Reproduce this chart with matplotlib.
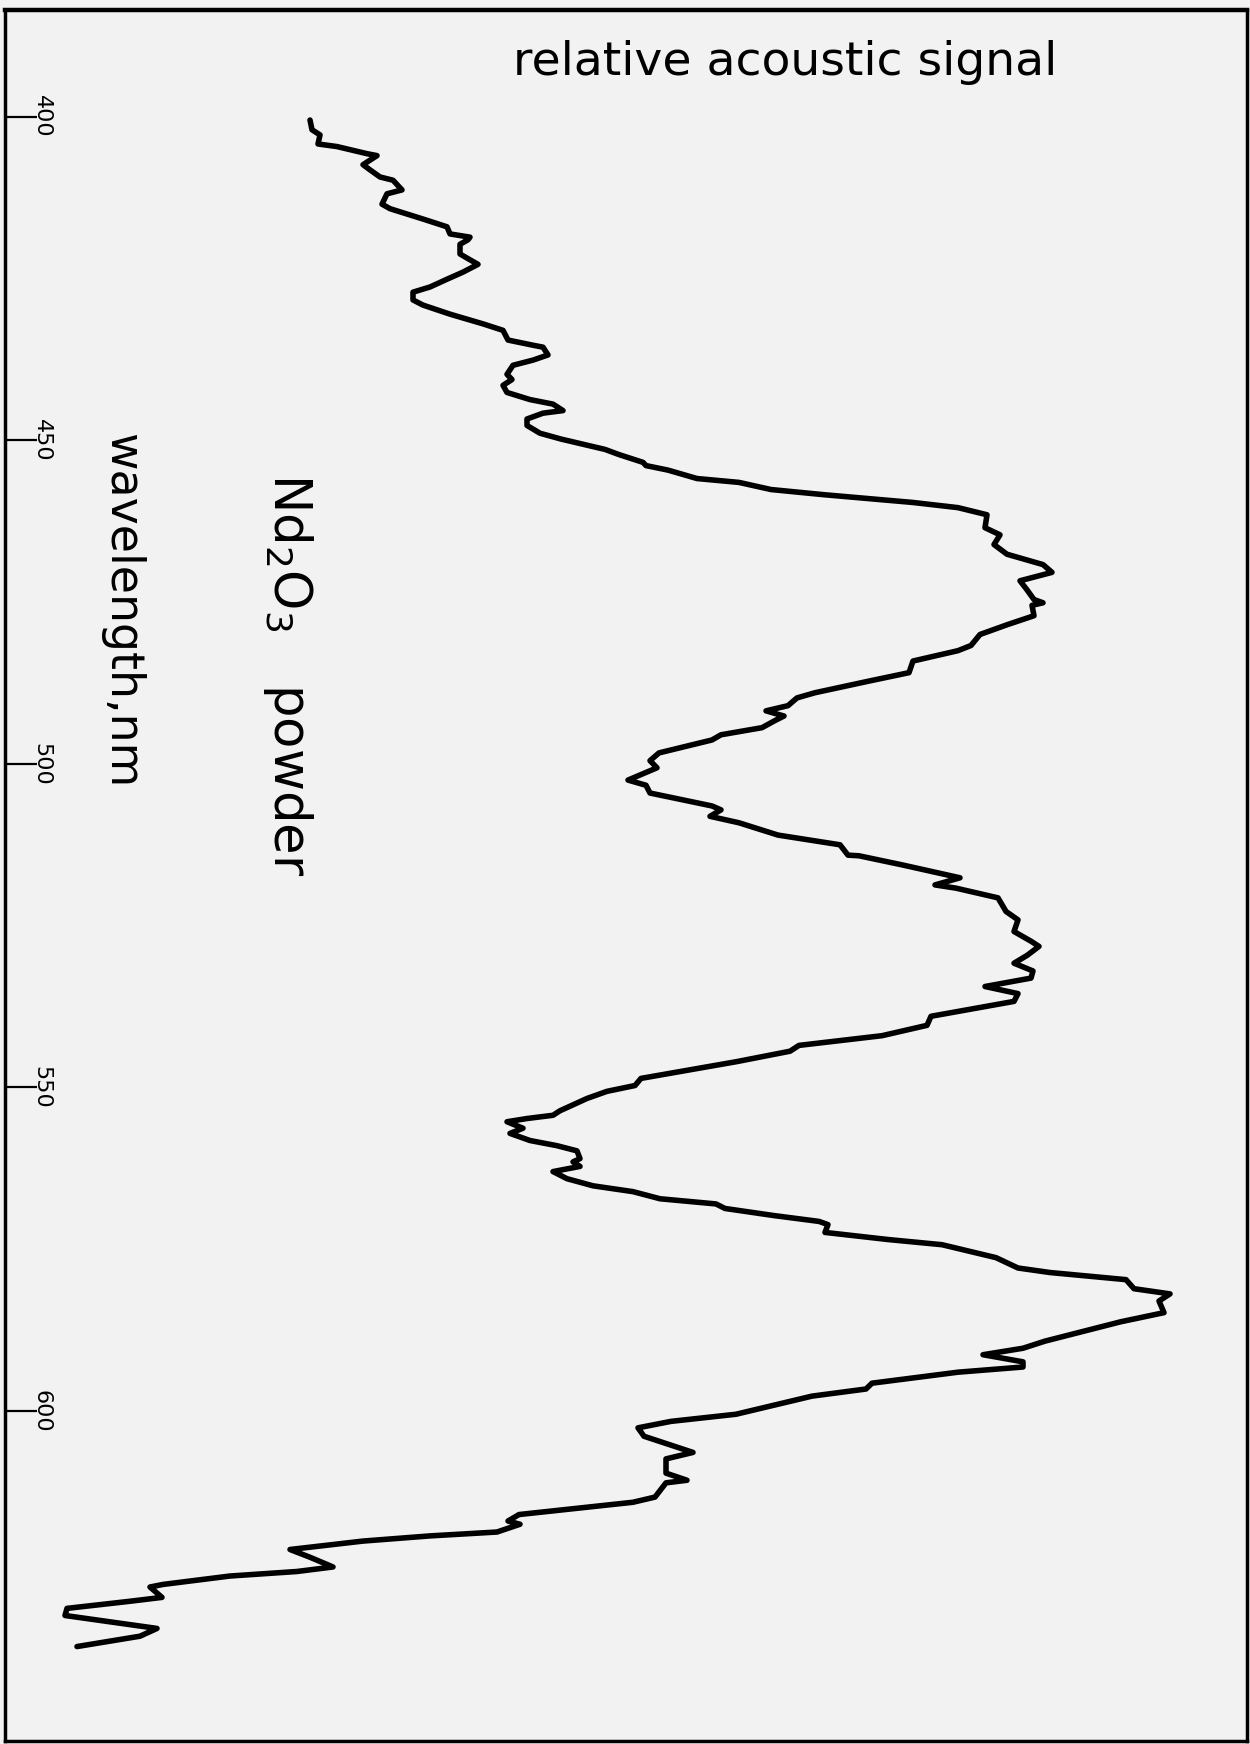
import matplotlib
matplotlib.use("Agg")
import matplotlib.pyplot as plt
import matplotlib.transforms as mtransforms

plt.rcParams['font.family'] = ['DejaVu Sans']
plt.rcParams['mathtext.fontset'] = 'dejavusans'

# wavelength (nm) and relative acoustic signal (arbitrary units)
wavelength = [
    400.5, 402.0, 402.8, 404.2, 404.6, 405.7, 406.0, 407.4, 408.2, 409.3,
    409.8, 411.3, 411.9, 413.5, 414.2, 415.8, 417.0, 418.1, 418.6, 419.0,
    419.7, 421.2, 422.1, 422.8, 424.0, 425.1, 426.3, 427.1, 428.3, 429.1,
    430.5, 432.0, 433.0, 434.5, 435.3, 435.6, 436.8, 437.6, 438.4, 439.8,
    440.6, 441.5, 442.6, 443.7, 444.4, 445.4, 445.8, 446.7, 447.7, 448.9,
    449.8, 451.4, 452.2, 453.4, 453.9, 454.6, 455.9, 456.5, 457.6, 458.4,
    459.6, 460.4, 461.5, 463.5, 464.6, 466.1, 467.6, 469.2, 470.4, 471.7,
    473.1, 474.6, 475.1, 475.5, 477.1, 478.5, 480.0, 481.7, 482.5, 484.1,
    485.9, 487.2, 489.0, 489.8, 491.0, 491.8, 492.6, 493.3, 494.4, 495.5,
    496.3, 498.3, 499.5, 500.6, 502.5, 503.3, 504.5, 506.5, 507.1, 508.1,
    509.1, 511.0, 512.5, 514.1, 514.2, 515.6, 517.6, 518.7, 519.2, 520.7,
    522.8, 524.1, 525.9, 527.4, 528.2, 529.6, 530.8, 532.0, 533.1, 534.4,
    535.5, 536.7, 539.0, 540.4, 542.0, 543.5, 544.4, 546.0, 548.6, 549.7,
    550.6, 551.7, 553.6, 554.3, 554.8, 555.3, 556.3, 557.1, 558.2, 559.0,
    559.8, 561.0, 561.5, 562.2, 563.0, 564.1, 565.2, 566.1, 567.2, 568.0,
    568.7, 569.8, 570.7, 571.2, 572.4, 573.5, 574.3, 576.3, 577.9, 578.6,
    579.7, 581.1, 581.9, 583.0, 584.8, 586.2, 587.5, 589.2, 590.3, 591.3,
    592.4, 593.2, 594.0, 595.7, 596.6, 597.7, 600.5, 601.6, 602.6, 603.9,
    606.4, 607.4, 609.6, 610.7, 611.1, 613.3, 614.1, 616.0, 617.0, 617.5,
    618.7, 619.3, 620.1, 621.4, 622.6, 624.1, 624.8, 625.5, 626.8, 627.2,
    628.8, 629.4, 630.5, 631.6, 633.6, 634.8, 636.4,
]
signal = [
    31.0, 31.2, 32.0, 31.8, 33.7, 36.7, 37.7, 36.3, 37.0, 38.0,
    39.3, 40.2, 38.7, 38.2, 39.0, 42.3, 44.7, 45.0, 47.0, 46.8,
    46.0, 46.0, 47.0, 47.8, 46.3, 44.7, 43.0, 41.3, 41.3, 42.3,
    45.0, 48.3, 50.3, 50.8, 53.3, 54.3, 54.8, 53.3, 51.3, 50.7,
    51.2, 50.3, 50.7, 53.0, 55.3, 56.3, 54.3, 52.7, 52.7, 54.0,
    56.1, 60.5, 61.9, 64.3, 64.6, 66.8, 69.7, 73.9, 77.1, 82.4,
    91.3, 95.8, 98.7, 98.5, 100.0, 99.4, 100.7, 104.3, 105.2, 102.0,
    102.7, 103.4, 104.3, 103.2, 103.4, 100.7, 98.0, 97.1, 95.8, 91.3,
    90.9, 86.9, 81.5, 79.7, 78.8, 76.6, 78.4, 77.5, 76.2, 72.1,
    71.2, 65.9, 65.0, 65.7, 62.8, 64.6, 65.0, 71.2, 72.1, 71.0,
    73.9, 77.8, 84.0, 84.8, 85.9, 90.2, 96.0, 93.5, 95.6, 99.8,
    100.6, 101.8, 101.4, 103.1, 103.9, 102.7, 101.4, 103.3, 103.1, 98.5,
    101.8, 101.4, 93.1, 92.7, 88.2, 79.9, 79.0, 73.7, 64.1, 63.5,
    60.7, 58.7, 56.0, 55.3, 52.7, 50.7, 52.3, 51.0, 53.0, 55.7,
    57.7, 58.0, 57.3, 58.0, 55.3, 56.7, 59.3, 63.3, 66.0, 71.6,
    72.5, 77.4, 81.9, 82.8, 82.5, 88.8, 94.2, 99.6, 101.8, 105.0,
    112.6, 113.4, 117.0, 115.9, 116.4, 112.1, 108.8, 104.5, 102.3, 98.3,
    102.3, 102.3, 95.8, 87.2, 86.6, 81.2, 73.6, 67.1, 63.8, 64.4,
    69.3, 66.6, 66.6, 68.7, 66.6, 65.5, 63.3, 51.9, 50.8, 52.0,
    49.7, 43.0, 36.3, 29.0, 31.0, 33.3, 29.7, 23.0, 16.3, 15.0,
    16.2, 13.0, 6.7, 6.5, 15.7, 14.0, 7.7,
]
tick_values = [400, 450, 500, 550, 600]
tick_labels = ["400", "450", "500", "550", "600"]

title_text = "relative acoustic signal"
sample_text = "Nd$_2$O$_3$   powder"
axis_text = "wavelength,nm"

bg = "#f2f2f2"
fig = plt.figure(figsize=(12.5, 17.44), dpi=100, facecolor=bg)
ax = fig.add_axes([0.004, 0.0017, 0.9936, 0.99255])
ax.set_facecolor(bg)

ax.plot(signal, wavelength, color="black", lw=4.0, solid_joinstyle="round",
        solid_capstyle="round")

ax.set_xlim(0.5, 124.7)
ax.set_ylim(651.0, 383.5)

for side in ["left", "right", "bottom", "top"]:
    ax.spines[side].set_color("black")
    ax.spines[side].set_linewidth(2.5)
ax.spines["top"].set_linewidth(3.2)

ax.set_xticks([])
ax.set_yticks(tick_values)
ax.tick_params(axis="y", direction="in", length=23, width=1.6, color="black",
               labelleft=False)

trans = mtransforms.blended_transform_factory(ax.transAxes, ax.transData)
for v, lab in zip(tick_values, tick_labels):
    ax.text(0.0215, v, lab, transform=trans, rotation=-90, ha="left",
            va="center", fontsize=16, color="black")

fig.text(0.628, 0.9639, title_text, ha="center", va="center", fontsize=34,
         color="black")
fig.text(0.2304, 0.613, sample_text, ha="center", va="center", rotation=-90,
         fontsize=37, color="black")
fig.text(0.0976, 0.6497, axis_text, ha="center", va="center", rotation=-90,
         fontsize=33, color="black")

fig.savefig("out.png", dpi=100, facecolor=bg)
